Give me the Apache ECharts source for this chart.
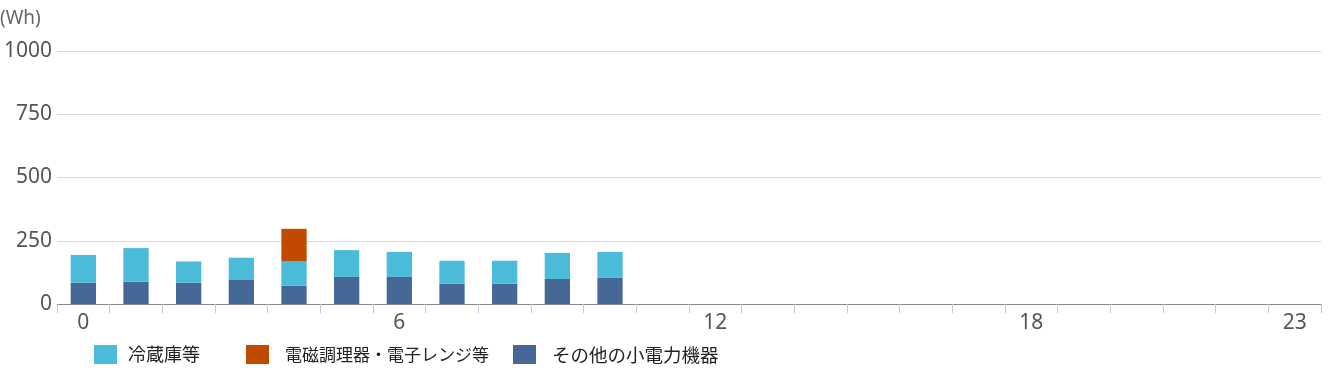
<!DOCTYPE html>
<html><head><meta charset="utf-8">
<script src="https://cdn.jsdelivr.net/npm/echarts@6/dist/echarts.min.js"></script>
<style>html,body{margin:0;padding:0;background:#fff}#c{width:1331px;height:380px}</style>
</head><body><div id="c"></div>
<script>
const hours = ["0","1","2","3","4","5","6","7","8","9","10","11","12","13","14","15","16","17","18","19","20","21","22","23"];
const seriesNames = ["冷蔵庫等", "電磁調理器・電子レンジ等", "その他の小電力機器"];
const otherVals = [84, 88, 84, 95, 72, 107, 107, 80, 80, 99, 103];
const fridgeVals = [110, 133, 84, 88, 96, 106, 99, 91, 91, 103, 103];
const cookVals = [0, 0, 0, 0, 129, 0, 0, 0, 0, 0, 0];
const yTicks = [0, 250, 500, 750, 1000];
const unitLabel = "(Wh)";
const colors = {fridge: "#4abcd9", cook: "#c04b00", other: "#466897"};

const chart = echarts.init(document.getElementById('c'), null, {renderer: 'canvas'});
const font = "'Noto Sans', 'Noto Sans CJK JP', sans-serif";
function legendAt(left, name, size, pad) {
  return {top: 345, left: left, itemWidth: 23, itemHeight: 19, icon: 'rect', selectedMode: false,
    itemGap: 0, padding: 0, data: [name],
    textStyle: {fontFamily: "'Noto Sans CJK JP', sans-serif", fontSize: size, color: '#222', padding: [0, 0, 0, pad]}};
}
chart.setOption({
  animation: false,
  title: {text: unitLabel, left: 0, top: 9, padding: 0,
    textStyle: {fontFamily: font, fontSize: 19, fontWeight: 'normal', color: '#666'}},
  legend: [
    legendAt(94, seriesNames[0], 18, 6),
    legendAt(246, seriesNames[1], 17, 11),
    legendAt(513, seriesNames[2], 18.5, 11)
  ],
  grid: {left: 57, right: 10, top: 51, bottom: 76},
  xAxis: {
    type: 'category', data: hours, boundaryGap: true,
    axisLine: {lineStyle: {color: '#8a8a8a', width: 1}},
    axisTick: {show: true, interval: 0, length: 9, lineStyle: {color: '#b9cadb'}},
    axisLabel: {interval: (i) => i % 6 === 0 || i === 23, fontFamily: font, fontSize: 21, color: '#555', margin: 9}
  },
  yAxis: {
    type: 'value', min: yTicks[0], max: yTicks[yTicks.length - 1], interval: 250,
    axisLine: {show: false}, axisTick: {show: false},
    splitLine: {lineStyle: {color: '#d9d9d9'}},
    axisLabel: {fontFamily: font, fontSize: 21, color: '#555', margin: 5, formatter: (v) => String(v)}
  },
  series: [
    {name: seriesNames[2], type: 'bar', stack: 'a', data: otherVals, barWidth: '48%', itemStyle: {color: colors.other}},
    {name: seriesNames[0], type: 'bar', stack: 'a', data: fridgeVals, itemStyle: {color: colors.fridge}},
    {name: seriesNames[1], type: 'bar', stack: 'a', data: cookVals, itemStyle: {color: colors.cook}}
  ]
});
</script></body></html>
